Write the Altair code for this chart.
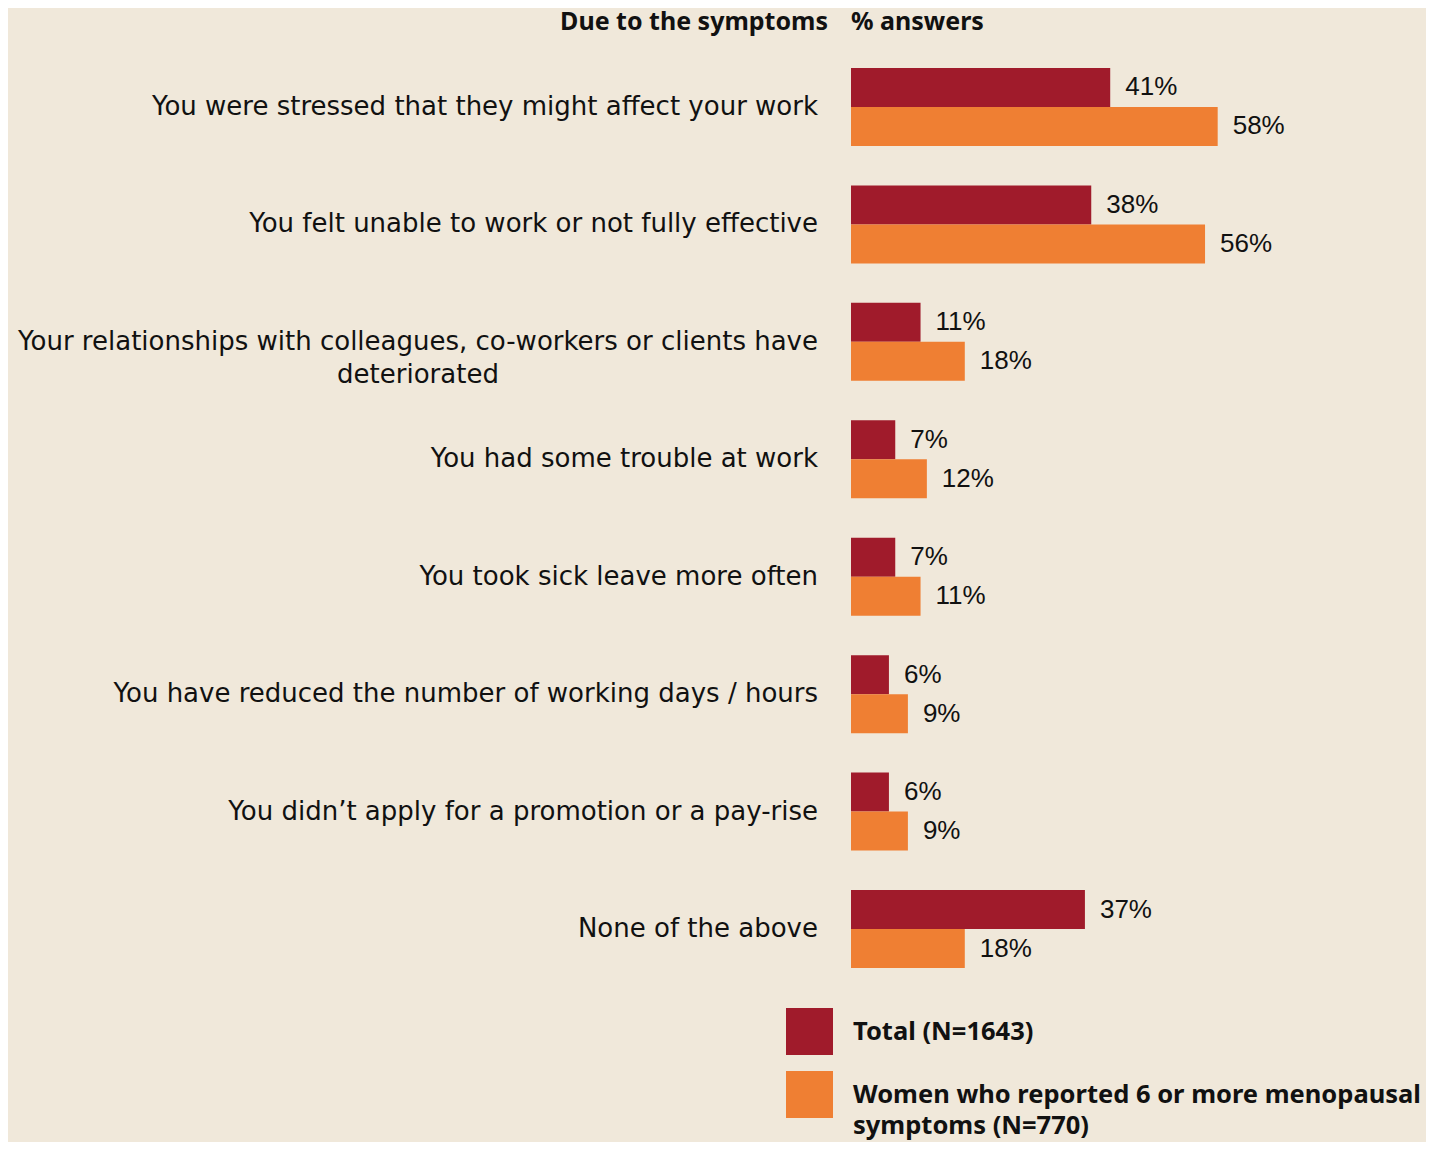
import altair as alt
import pandas as pd

categories = [
    "You were stressed that they might affect your work",
    "You felt unable to work or not fully effective",
    "Your relationships with colleagues, co-workers or clients have\ndeteriorated",
    "You had some trouble at work",
    "You took sick leave more often",
    "You have reduced the number of working days / hours",
    "You didn\u2019t apply for a promotion or a pay-rise",
    "None of the above",
]
total_values = [41, 38, 11, 7, 7, 6, 6, 37]
women_values = [58, 56, 18, 12, 11, 9, 9, 18]
series = [
    "Total (N=1643)",
    "Women who reported 6 or more menopausal\nsymptoms (N=770)",
]
header_left = ["Due to the symptoms"]
header_right = ["% answers"]

RED = "#a01b2b"
ORANGE = "#ef7f33"
BG = "#f0e8da"
INK = "#111111"

rows = []
for c, t, w in zip(categories, total_values, women_values):
    rows.append({"category": c, "series": series[0], "value": t, "label": f"{t}%"})
    rows.append({"category": c, "series": series[1], "value": w, "label": f"{w}%"})
df = pd.DataFrame(rows)

# first lines (right aligned) and continuation lines (centred under the first line)
main_rows, sub_rows = [], []
for c in categories:
    parts = c.split("\n")
    if len(parts) > 1:
        main_rows.append({"category": c, "text": parts[0] + "\n "})
        sub_rows.append({"category": c, "text": " \n" + parts[1]})
    else:
        main_rows.append({"category": c, "text": c})
cats_main = pd.DataFrame(main_rows)
cats_sub = pd.DataFrame(sub_rows)

yenc = alt.Y("category:N", sort=categories,
             scale=alt.Scale(paddingInner=0.336, paddingOuter=0), axis=None)
yoff = alt.YOffset("series:N", sort=series,
                   scale=alt.Scale(paddingInner=0, paddingOuter=0))
xenc = alt.X("value:Q", scale=alt.Scale(domain=[0, 90]), axis=None)

base = alt.Chart(df).encode(y=yenc, yOffset=yoff)

bars = base.mark_bar(cornerRadius=0).encode(
    x=xenc,
    color=alt.Color(
        "series:N", sort=series,
        scale=alt.Scale(domain=series, range=[RED, ORANGE]),
        legend=alt.Legend(
            title=None, orient="none", legendX=-65, legendY=940,
            symbolType="square", symbolSize=2209, symbolStrokeWidth=0,
            symbolOpacity=1,
            labelFont="Noto Sans", labelFontSize=25.5, labelFontWeight="bold",
            labelColor=INK, labelLimit=1000, labelOffset=20, rowPadding=16,
            labelExpr="split(datum.label, '\\n')",
        ),
    ),
)

values = base.mark_text(align="left", baseline="middle", dx=15,
                        font="Liberation Sans", fontSize=26, color=INK).encode(
    x="value:Q", text="label:N")

CAT_FONT = dict(baseline="middle", lineBreak="\n", lineHeight=33,
                font="DejaVu Sans", fontSize=26, color=INK)

cat_labels = alt.Chart(cats_main).mark_text(align="right", **CAT_FONT).encode(
    y=alt.Y("category:N", sort=categories), x=alt.value(-33), text="text:N")
cat_sub = alt.Chart(cats_sub).mark_text(align="center", **CAT_FONT).encode(
    y=alt.Y("category:N", sort=categories), x=alt.value(-433), text="text:N")

hl = alt.Chart(pd.DataFrame({"t": header_left})).mark_text(
    align="right", baseline="middle", font="Noto Sans", fontSize=25,
    fontWeight="bold", color=INK).encode(
    text="t:N", x=alt.value(-23), y=alt.value(-46))
hr = alt.Chart(pd.DataFrame({"t": header_right})).mark_text(
    align="left", baseline="middle", font="Noto Sans", fontSize=25,
    fontWeight="bold", color=INK).encode(
    text="t:N", x=alt.value(0), y=alt.value(-46))

chart = alt.layer(bars, values, cat_labels, cat_sub, hl, hr).properties(
    width=569, height=900,
    padding={"left": 843, "top": 60, "right": 6, "bottom": 174},
    autosize=alt.AutoSizeParams(type="none"),
    background=BG,
).configure(
    view=alt.ViewConfig(strokeWidth=0),
    style={"guide-label": {"lineHeight": 31}},
)

chart.save("out.html", embed_options={"renderer": "svg", "actions": False})
